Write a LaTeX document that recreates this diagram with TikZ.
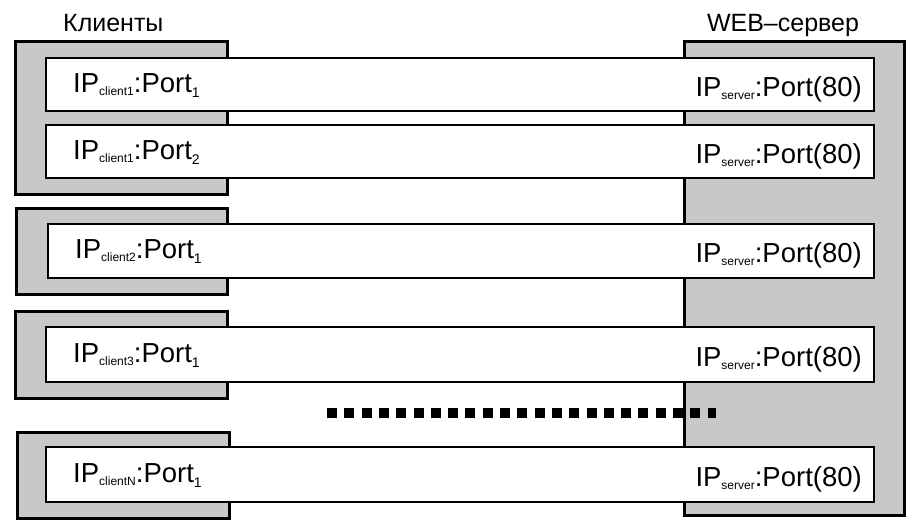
\documentclass[tikz,border=0pt]{standalone}
\usepackage{fontspec}
\setmainfont{Liberation Sans}
\definecolor{boxgray}{HTML}{C8C8C8}
\newcommand{\IPsub}[1]{IP\raisebox{-3.5pt}{\fontsize{12}{12}\selectfont #1}}
\newcommand{\PortSub}[1]{Port\raisebox{-5pt}{\fontsize{14}{14}\selectfont #1}}
\tikzset{
  hostbox/.style={draw=black, line width=2.6pt, fill=boxgray, anchor=north west, inner sep=0pt},
  connbar/.style={draw=black, line width=1.6pt, fill=white, anchor=north west, inner sep=0pt},
  lbl/.style={inner sep=0pt, font=\fontsize{27.5}{27.5}\selectfont},
  title/.style={inner sep=0pt, font=\fontsize{25}{25}\selectfont}
}
\begin{document}
\begin{tikzpicture}[x=1pt,y=-1pt]
\useasboundingbox[fill=white] (0,0) rectangle (918,530);
% host boxes
\node[hostbox, minimum width=212pt, minimum height=153pt] (c1) at (14,40) {};
\node[hostbox, minimum width=211pt, minimum height=86pt] (c2) at (15,207) {};
\node[hostbox, minimum width=212pt, minimum height=87pt] (c3) at (14,310) {};
\node[hostbox, minimum width=212pt, minimum height=86pt] (cn) at (16,431) {};
\node[hostbox, minimum width=220pt, minimum height=474pt] (srv) at (683,40) {};
% titles
\node[title, anchor=base west] (tc) at (63,31) {Клиенты};
\node[title, anchor=base] (ts) at (783,31) {WEB–сервер};
% connection bars
\node[connbar, minimum width=828pt, minimum height=53pt] (b1) at (45,57) {};
\node[connbar, minimum width=828pt, minimum height=53pt] (b2) at (45,124) {};
\node[connbar, minimum width=826pt, minimum height=54pt] (b3) at (47,223) {};
\node[connbar, minimum width=828pt, minimum height=55pt] (b4) at (45,326) {};
\node[connbar, minimum width=828pt, minimum height=55pt] (b5) at (45,446) {};
% labels
\node[lbl, anchor=base west] (l1) at (73,92) {\IPsub{client1}:\PortSub{1}};
\node[lbl, anchor=base west] (l2) at (73,159) {\IPsub{client1}:\PortSub{2}};
\node[lbl, anchor=base west] (l3) at (75,258) {\IPsub{client2}:\PortSub{1}};
\node[lbl, anchor=base west] (l4) at (73,362) {\IPsub{client3}:\PortSub{1}};
\node[lbl, anchor=base west] (l5) at (73,482) {\IPsub{clientN}:\PortSub{1}};
\node[lbl, anchor=base east] (r1) at (862,96) {\IPsub{server}:Port(80)};
\node[lbl, anchor=base east] (r2) at (862,163) {\IPsub{server}:Port(80)};
\node[lbl, anchor=base east] (r3) at (862,262) {\IPsub{server}:Port(80)};
\node[lbl, anchor=base east] (r4) at (862,366) {\IPsub{server}:Port(80)};
\node[lbl, anchor=base east] (r5) at (862,486) {\IPsub{server}:Port(80)};
% ellipsis of further clients
\coordinate (d1) at (327,413);
\coordinate (d2) at (716,413);
\draw[line width=10pt, dash pattern=on 10pt off 7.3pt] (d1) -- (d2);
\end{tikzpicture}
\end{document}
